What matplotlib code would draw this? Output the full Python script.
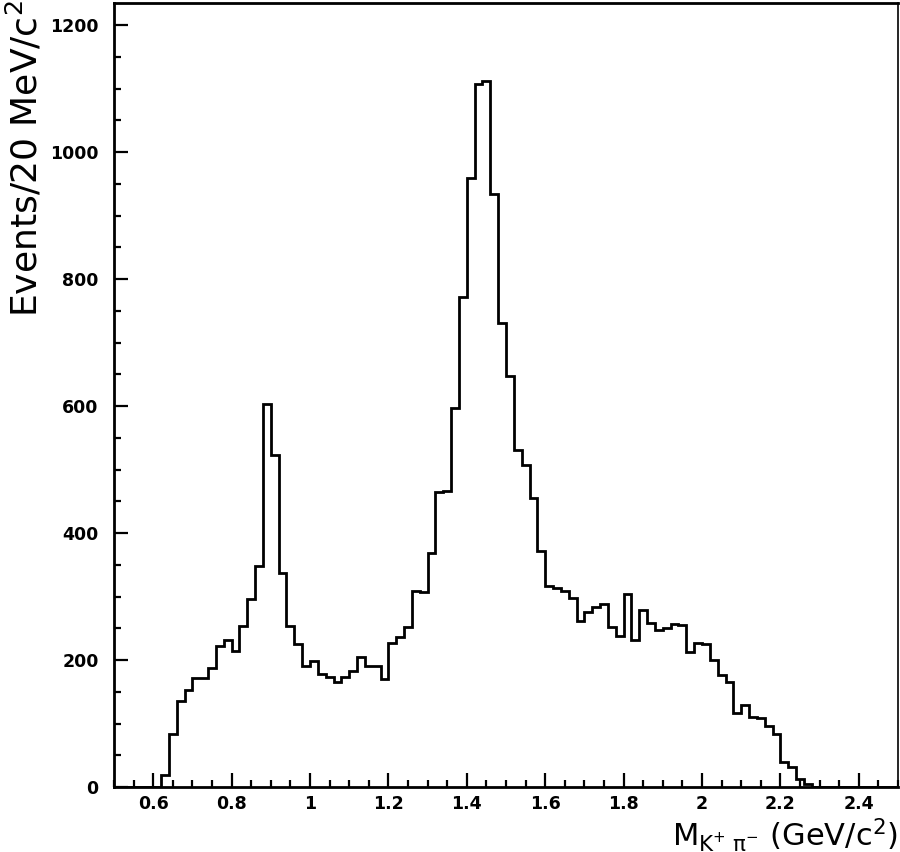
import numpy as np
import matplotlib
matplotlib.use('Agg')
from matplotlib import pyplot as plt
from matplotlib.ticker import MultipleLocator, FormatStrFormatter

# K+ pi- invariant mass, 20 MeV bins from 0.5 to 2.5 GeV/c^2
bin_lo = 0.5
bin_width = 0.02
counts = [0, 0, 0, 0, 0, 0,
          19, 83, 135, 153, 171, 171, 187, 222, 231, 215,
          254, 296, 348, 603, 523, 337, 253, 225, 191, 199,
          178, 173, 166, 173, 183, 205, 191, 190, 170, 227,
          237, 252, 309, 307, 368, 464, 466, 597, 772, 959,
          1108, 1112, 934, 731, 648, 531, 507, 456, 371, 317,
          313, 309, 298, 261, 276, 284, 289, 252, 238, 304,
          231, 279, 258, 247, 251, 257, 255, 213, 227, 225,
          200, 176, 166, 116, 129, 111, 108, 96, 83, 40,
          32, 12, 4, 0, 0, 0, 0, 0, 0, 0,
          0, 0, 0, 0, 0, 0, 0, 0, 0, 0]
edges = bin_lo + bin_width * np.arange(len(counts) + 1)
xtick_vals = [0.6, 0.8, 1.0, 1.2, 1.4, 1.6, 1.8, 2.0, 2.2, 2.4]

plt.rcParams['font.family'] = ['DejaVu Sans']
plt.rcParams['mathtext.fontset'] = 'dejavusans'

fig = plt.figure(figsize=(9, 8.52), dpi=100)
fig.set_facecolor('white')
ax = fig.add_axes([114/900, 65/852, 784/900, 784/852])

ax.stairs(counts, edges, color='black', linewidth=2.0)

ax.set_xlim(0.5, 2.5)
ax.set_ylim(0, 1235)

ax.set_xticks(xtick_vals)
ax.xaxis.set_minor_locator(MultipleLocator(0.05))
ax.yaxis.set_major_locator(MultipleLocator(200))
ax.yaxis.set_minor_locator(MultipleLocator(50))
ax.xaxis.set_major_formatter(FormatStrFormatter('%g'))

ax.tick_params(which='major', direction='in', length=10, width=1.6,
               labelsize=12.5)
ax.tick_params(which='minor', direction='in', length=5, width=1.6)
ax.tick_params(axis='y', which='both', right=False, pad=11)
ax.tick_params(axis='x', which='both', top=False, pad=6)
for lab in ax.get_xticklabels() + ax.get_yticklabels():
    lab.set_fontweight('bold')

for side in ['left', 'bottom', 'top']:
    ax.spines[side].set_linewidth(2)
ax.spines['right'].set_linewidth(1.2)

fig.text(25/900, 1.0, 'Events/20 MeV/c$^{2}$', rotation=90,
         ha='center', va='top', fontsize=26)
fig.text(898/900, 17/852, r'M$_{\mathrm{K}^{+}\ \mathrm{π}^{-}}$ (GeV/c$^{2}$)',
         ha='right', va='center', fontsize=22)

plt.savefig('out.png', dpi=100)
